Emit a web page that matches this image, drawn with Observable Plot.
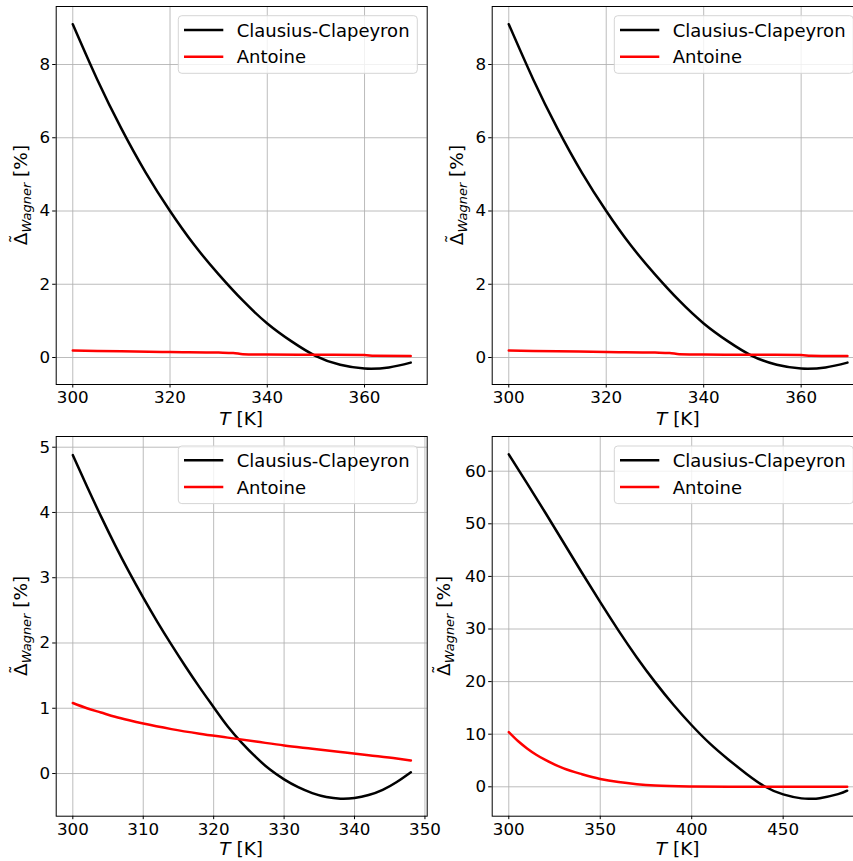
<!DOCTYPE html>
<html><head><meta charset="utf-8">
<script src="https://cdn.jsdelivr.net/npm/d3@7"></script>
<script src="https://cdn.jsdelivr.net/npm/@observablehq/plot@0.6"></script>
<style>
html,body{margin:0;padding:0;background:#fff;}
#wrap{position:relative;width:853px;height:861px;overflow:hidden;background:#fff;font-family:"DejaVu Sans";}
#wrap > svg{position:absolute;}
</style></head><body><div id="wrap"></div>
<script>
// ---- data ----
const legendLabels = ["Clausius-Clapeyron", "Antoine"];
const seriesColors = ["#000000", "#ff0000"];

// top panels (same data in both)
const T_top_cc = [300,305,310,315,320,325,330,335,340,345,350,355,360,365,369.5];
const cc_top   = [9.1,7.6,6.25,5.05,4.0,3.07,2.27,1.55,0.93,0.44,0.04,-0.2,-0.3,-0.27,-0.14];
const T_top_ant = [300,310,320,330,333,335,340,350,360,362,369.5];
const ant_top   = [0.19,0.17,0.15,0.135,0.125,0.09,0.08,0.075,0.07,0.045,0.04];

// bottom-left
const T_bl_cc = [300,302,304,306,308,310,312,314,316,318,320,322,324,326,328,330,332,334,336,338,340,342,344,346,348];
const cc_bl   = [4.88,4.40,3.94,3.50,3.085,2.695,2.325,1.975,1.64,1.32,1.015,0.72,0.47,0.25,0.06,-0.09,-0.21,-0.30,-0.36,-0.385,-0.375,-0.33,-0.25,-0.13,0.02];
const T_bl_ant = [300,302,304,306,308,310,314,318,322,326,330,334,338,342,346,348];
const ant_bl   = [1.08,1.0,0.935,0.87,0.815,0.765,0.68,0.61,0.55,0.49,0.43,0.38,0.33,0.28,0.23,0.2];

// bottom-right
const T_br_cc = [300,310,320,330,340,350,360,370,380,390,400,410,420,430,440,450,460,465,470,480,485];
const cc_br   = [63.2,57.7,52.1,46.4,40.7,35.1,29.7,24.6,19.9,15.6,11.7,8.2,5.2,2.45,0.05,-1.45,-2.2,-2.28,-2.17,-1.4,-0.75];
const T_br_ant = [300,305,310,315,320,330,340,350,360,370,380,400,420,450,485];
const ant_br   = [10.4,8.7,7.3,6.1,5.1,3.5,2.4,1.5,0.9,0.5,0.25,0.07,0.02,0,0];

// tick values
const xTicksTop = [300,320,340,360];
const yTicksTop = [0,2,4,6,8];
const xTicksBL = [300,310,320,330,340,350];
const yTicksBL = [0,1,2,3,4,5];
const xTicksBR = [300,350,400,450];
const yTicksBR = [0,10,20,30,40,50,60];

const FONT = "DejaVu Sans";
const wrap = document.getElementById("wrap");

function panel(c) {
  const ccData = c.ccT.map((t, i) => ({T: t, v: c.ccV[i]}));
  const antData = c.antT.map((t, i) => ({T: t, v: c.antV[i]}));
  const svg = Plot.plot({
    width: c.width, height: c.height,
    marginLeft: c.fl, marginRight: c.width - c.fr,
    marginTop: c.ft, marginBottom: c.height - c.fb,
    x: {domain: c.xDomain},
    y: {domain: c.yDomain},
    style: {fontFamily: FONT, background: "transparent", overflow: "visible", maxWidth: "none"},
    marks: [
      Plot.gridX(c.xTicks, {stroke: "#b0b0b0", strokeOpacity: 0.85, strokeWidth: 1}),
      Plot.gridY(c.yTicks, {stroke: "#b0b0b0", strokeOpacity: 0.85, strokeWidth: 1}),
      Plot.line(ccData, {x: "T", y: "v", stroke: seriesColors[0], strokeWidth: 2.5, curve: "natural"}),
      Plot.line(antData, {x: "T", y: "v", stroke: seriesColors[1], strokeWidth: 2.5, curve: "monotone-x"}),
      Plot.frame({stroke: "#000", strokeWidth: 1}),
      Plot.axisX(c.xTicks, {tickSize: 3.5, tickPadding: 3.5, fontSize: 16.7, label: null, tickFormat: d => String(d)}),
      Plot.axisY(c.yTicks, {tickSize: 3.5, tickPadding: 2.5, fontSize: 16.7, label: null, tickFormat: d => String(d)})
    ]
  });
  svg.style.left = c.left + "px";
  svg.style.top = c.top + "px";
  wrap.appendChild(svg);
  const g = d3.select(svg);

  // legend
  const lg = g.append("g").attr("text-anchor", "start");
  lg.append("rect").attr("x", c.lx).attr("y", c.ly).attr("width", 239).attr("height", 57.6)
    .attr("rx", 3.5).attr("fill", "#fff").attr("fill-opacity", 0.8)
    .attr("stroke", "#d5d5d5").attr("stroke-width", 1);
  legendLabels.forEach((lab, i) => {
    const yy = c.ly + 14.3 + i * 26.7;
    lg.append("line").attr("x1", c.lx + 5.7).attr("x2", c.lx + 45).attr("y1", yy).attr("y2", yy)
      .attr("stroke", seriesColors[i]).attr("stroke-width", 2.5);
    lg.append("text").attr("x", c.lx + 58.4).attr("y", yy + 6.5).attr("font-size", 18)
      .attr("text-anchor", "start").attr("font-family", FONT).attr("fill", "#000").text(lab);
  });

  // y label
  const cy = (c.ft + c.fb) / 2;
  const yg = g.append("g").attr("transform", `translate(${c.ylx},${cy}) rotate(-90)`);
  const yl = yg.append("text").attr("text-anchor", "start").attr("font-size", 18.5)
    .attr("font-family", FONT).attr("fill", "#000");
  const delta = yl.append("tspan").text("\u0394");
  yl.append("tspan").attr("font-size", 12.95).attr("font-style", "italic").attr("dy", 4).text("Wagner");
  yl.append("tspan").attr("dy", -4).text(" [%]");
  const len = yl.node().getComputedTextLength();
  yl.attr("x", -len / 2);
  const dw = delta.node().getComputedTextLength();
  yg.append("text").attr("x", -len / 2 + dw / 2).attr("y", -4).attr("text-anchor", "middle")
    .attr("font-size", 18.5).attr("font-family", FONT).attr("fill", "#000").text("\u02DC");

  // x label
  const xl = g.append("text").attr("x", (c.fl + c.fr) / 2).attr("y", c.xly)
    .attr("text-anchor", "middle").attr("font-size", 18.5).attr("font-family", FONT).attr("fill", "#000");
  xl.append("tspan").attr("font-style", "italic").text("T");
  xl.append("tspan").text(" [K]");
}

// top-left
panel({left: 0, top: 0, width: 430, height: 430, fl: 55.7, fr: 426.7, ft: 6, fb: 384,
  xDomain: [296.59, 372.89], yDomain: [-0.737, 9.584], xTicks: xTicksTop, yTicks: yTicksTop,
  ccT: T_top_cc, ccV: cc_top, antT: T_top_ant, antV: ant_top,
  lx: 178.3, ly: 15.7, ylx: 26.5, xly: 424.5});
// top-right
panel({left: 430, top: 0, width: 440, height: 430, fl: 61.7, fr: 434, ft: 6, fb: 384,
  xDomain: [296.6, 373.0], yDomain: [-0.737, 9.584], xTicks: xTicksTop, yTicks: yTicksTop,
  ccT: T_top_cc, ccV: cc_top, antT: T_top_ant, antV: ant_top,
  lx: 184.3, ly: 15.7, ylx: 33, xly: 424.5});
// bottom-left
panel({left: 0, top: 430, width: 430, height: 431, fl: 55.7, fr: 426.7, ft: 6, fb: 385.7,
  xDomain: [297.64, 350.32], yDomain: [-0.654, 5.164], xTicks: xTicksBL, yTicks: yTicksBL,
  ccT: T_bl_cc, ccV: cc_bl, antT: T_bl_ant, antV: ant_bl,
  lx: 178.3, ly: 16, ylx: 26.5, xly: 424.5});
// bottom-right
panel({left: 430, top: 430, width: 440, height: 431, fl: 61.7, fr: 433.7, ft: 6, fb: 385.7,
  xDomain: [290.93, 494.3], yDomain: [-5.59, 66.6], xTicks: xTicksBR, yTicks: yTicksBR,
  ccT: T_br_cc, ccV: cc_br, antT: T_br_ant, antV: ant_br,
  lx: 184.3, ly: 16, ylx: 19.5, xly: 424.5});
</script>
</body></html>
